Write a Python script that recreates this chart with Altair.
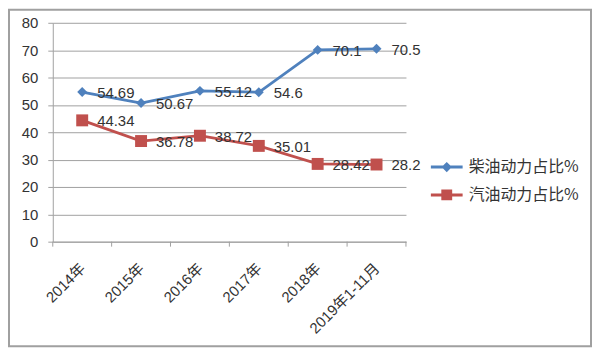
import altair as alt
import pandas as pd

categories = ["2014年", "2015年", "2016年", "2017年", "2018年", "2019年1-11月"]
diesel = [54.69, 50.67, 55.12, 54.6, 70.1, 70.5]
gasoline = [44.34, 36.78, 38.72, 35.01, 28.42, 28.2]
series_names = ["柴油动力占比%", "汽油动力占比%"]
series_colors = ["#4F81BD", "#C0504D"]
y_ticks = [0, 10, 20, 30, 40, 50, 60, 70, 80]

rows = []
for name, vals in zip(series_names, [diesel, gasoline]):
    for i, (c, v) in enumerate(zip(categories, vals)):
        rows.append({"idx": i, "cat": c, "series": name, "value": v, "label": f"{v:g}"})
df = pd.DataFrame(rows)

FONT = "Liberation Sans, Noto Sans CJK SC"
TXT = "#333333"
GRID = "#a0a0a0"

n = len(categories)
boundaries = pd.DataFrame({"idx": [i - 0.5 for i in range(n + 1)]})
cat_js = "[" + ",".join("'" + c + "'" for c in categories) + "]"

x_enc = alt.X(
    "idx:Q",
    scale=alt.Scale(domain=[-0.5, n - 0.5], nice=False, zero=False),
    axis=alt.Axis(
        values=list(range(n)),
        labelExpr=f"{cat_js}[datum.value]",
        ticks=False,
        grid=False,
        title=None,
        labelAngle=-45,
        labelAlign="right",
        labelBaseline="middle",
        labelPadding=24,
        labelFontSize=15,
        labelFont=FONT,
        labelColor=TXT,
        labelOverlap=False,
        labelBound=False,
        labelFlush=False,
        domainColor=GRID,
    ),
)
y_enc = alt.Y(
    "value:Q",
    scale=alt.Scale(domain=[0, 80], nice=False),
    axis=alt.Axis(
        values=y_ticks,
        title=None,
        grid=True,
        gridColor=GRID,
        domainColor=GRID,
        tickColor=GRID,
        tickSize=5,
        labelPadding=10,
        labelFontSize=15,
        labelFont=FONT,
        labelColor=TXT,
    ),
)

base = alt.Chart(df)

frame = alt.Chart(pd.DataFrame({"a": [0]})).mark_rect(
    filled=False, stroke="#a0a0a0", strokeWidth=2
).encode(
    x=alt.value(-44), x2=alt.value(541), y=alt.value(-13), y2=alt.value(325)
)

xticks = alt.Chart(boundaries).mark_rule(color=GRID, strokeWidth=1).encode(
    x=x_enc, y=alt.value(220), y2=alt.value(225)
)

layers = [frame, xticks]
shapes = ["diamond", "square"]
sizes = [100, 144]
for name, col, shp, sz in zip(series_names, series_colors, shapes, sizes):
    sub = base.transform_filter(alt.datum.series == name)
    layers.append(sub.mark_line(strokeWidth=2.75, color=col).encode(x=x_enc, y=y_enc))
    layers.append(
        sub.mark_point(shape=shp, filled=True, size=sz, opacity=1, color=col).encode(x=x_enc, y=y_enc)
    )

path_d = "M-1.14,-0.11H1.14V0.11H-1.14Z M0,-0.37L0.37,0L0,0.37L-0.37,0Z"
path_s = "M-1.14,-0.11H1.14V0.11H-1.14Z M-0.39,-0.39H0.39V0.39H-0.39Z"

leg = dict(
    title=None,
    orient="none",
    legendX=382,
    legendY=131,
    padding=0,
    rowPadding=6,
    symbolSize=784,
    symbolStrokeWidth=0,
    symbolOpacity=1,
    labelFontSize=16,
    labelFont="Noto Sans CJK SC",
    labelColor=TXT,
    labelOffset=8,
    labelLimit=300,
)
legend_layer = base.mark_point(filled=True, opacity=0).encode(
    x=x_enc,
    y=y_enc,
    color=alt.Color(
        "series:N",
        scale=alt.Scale(domain=series_names, range=series_colors),
        legend=alt.Legend(**leg),
    ),
    shape=alt.Shape(
        "series:N",
        scale=alt.Scale(domain=series_names, range=[path_d, path_s]),
        legend=alt.Legend(**leg),
    ),
)
layers.append(legend_layer)

labels = base.mark_text(
    align="left", baseline="middle", dx=15, dy=1, fontSize=15, font=FONT, color=TXT
).encode(x=x_enc, y=y_enc, text="label:N")
layers.append(labels)

chart = (
    alt.layer(*layers)
    .properties(
        width=355,
        height=220,
        autosize=alt.AutoSizeParams(type="none"),
        padding={"left": 45, "top": 14, "right": 187, "bottom": 106},
    )
    .configure_view(strokeWidth=0)
)

chart.save("out.html", embed_options={"renderer": "svg", "actions": False})
